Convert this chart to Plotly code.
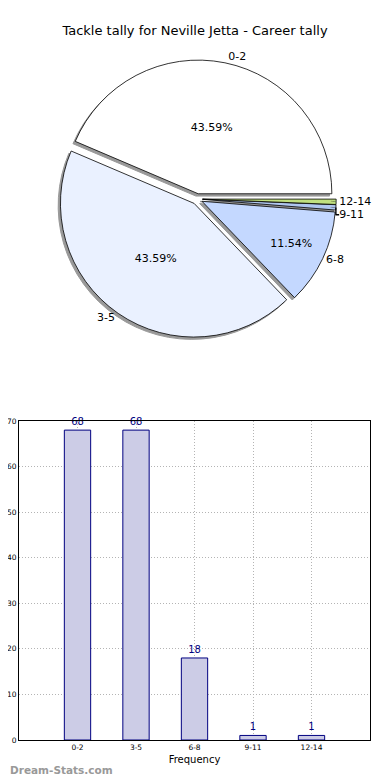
import plotly.graph_objects as go

categories = ["0-2", "3-5", "6-8", "9-11", "12-14"]
counts = [68, 68, 18, 1, 1]
pie_colors = ["#FFFFFF", "#EAF1FF", "#C4D8FF", "#AFC6F0", "#C0E080"]
title = "Tackle tally for Neville Jetta - Career tally"
y_ticks = [0, 10, 20, 30, 40, 50, 60, 70]

FONT = "DejaVu Sans"
OFF = 8  # page body margin around the plot div
W, H = 390 - OFF, 780 - OFF

pull = [0.04, 0.04, 0.04, 0.04, 0.04]
# first slice starts at 3 o'clock and runs counterclockwise (plotly's ccw rotation is the first slice's end)
rotation = 90 - 360 * counts[0] / sum(counts)

def px(page_x):
    return (page_x - OFF) / W

def py(page_y):
    return 1 - (page_y - OFF) / H

d = 0.006
pie_dom_x = [px(OFF) + d, px(384)]
pie_dom_y = [py(338), py(60)]
shadow_dom_x = [0.0, px(384) - d]
shadow_dom_y = [pie_dom_y[0] - 0.003, pie_dom_y[1] - 0.003]

common = dict(labels=categories, values=counts, sort=False, direction="counterclockwise",
              rotation=rotation, pull=pull, showlegend=False)

fig = go.Figure()

# shadow
fig.add_trace(go.Pie(
    **common,
    marker=dict(colors=["#999999"] * 5, line=dict(color="#999999", width=1)),
    textinfo="none", hoverinfo="skip",
    domain=dict(x=shadow_dom_x, y=shadow_dom_y),
))
# main pie with percentages inside
fig.add_trace(go.Pie(
    **common,
    marker=dict(colors=pie_colors, line=dict(color="#000000", width=0.8)),
    texttemplate="%{percent:.2%}", textposition="inside", insidetextorientation="horizontal",
    textfont=dict(family=FONT, size=11, color="#000000"),
    domain=dict(x=pie_dom_x, y=pie_dom_y),
))
# labels outside
fig.add_trace(go.Pie(
    **common,
    marker=dict(colors=["rgba(0,0,0,0)"] * 5, line=dict(width=0)),
    texttemplate="%{label}", textposition="outside",
    textfont=dict(family=FONT, size=11, color="#000000"),
    hoverinfo="skip",
    domain=dict(x=pie_dom_x, y=pie_dom_y),
))

fig.add_trace(go.Bar(
    x=categories, y=counts, width=0.45,
    marker=dict(color="#CCCCE6", line=dict(color="#000080", width=1)),
    text=[str(c) for c in counts], textposition="outside",
    textfont=dict(family=FONT, size=10, color="#000080"),
    cliponaxis=False, showlegend=False, xaxis="x", yaxis="y",
))

grid = dict(showgrid=True, gridcolor="#B4B4B4", griddash="1px,2px", gridwidth=1,
            showline=True, linecolor="black", linewidth=1, mirror=True, ticks="",
            zeroline=False, automargin=False, layer="above traces")

fig.update_layout(
    width=W, height=H, margin=dict(l=0, r=0, t=0, b=0, autoexpand=False),
    paper_bgcolor="white", plot_bgcolor="white",
    font=dict(family=FONT, color="#000000"),
    title=dict(text=title, x=0.5 - OFF / 2 / W, xanchor="center", y=py(30), yanchor="middle",
               font=dict(family=FONT, size=13, color="#000000")),
    xaxis=dict(domain=[px(19), px(370)], range=[-1, 5], type="category",
               tickfont=dict(size=7.5),
               title=dict(text="Frequency", font=dict(size=10), standoff=4), **grid),
    yaxis=dict(domain=[py(740), py(421)], range=[0, 70], tickvals=y_ticks,
               tickfont=dict(size=7.5), **grid),
    annotations=[dict(text="<b>Dream-Stats.com</b>", x=0, xanchor="left", y=py(770), yanchor="middle",
                      xref="paper", yref="paper", showarrow=False,
                      font=dict(family=FONT, size=10.5, color="#999999"))],
)

fig.write_html("out.html")
